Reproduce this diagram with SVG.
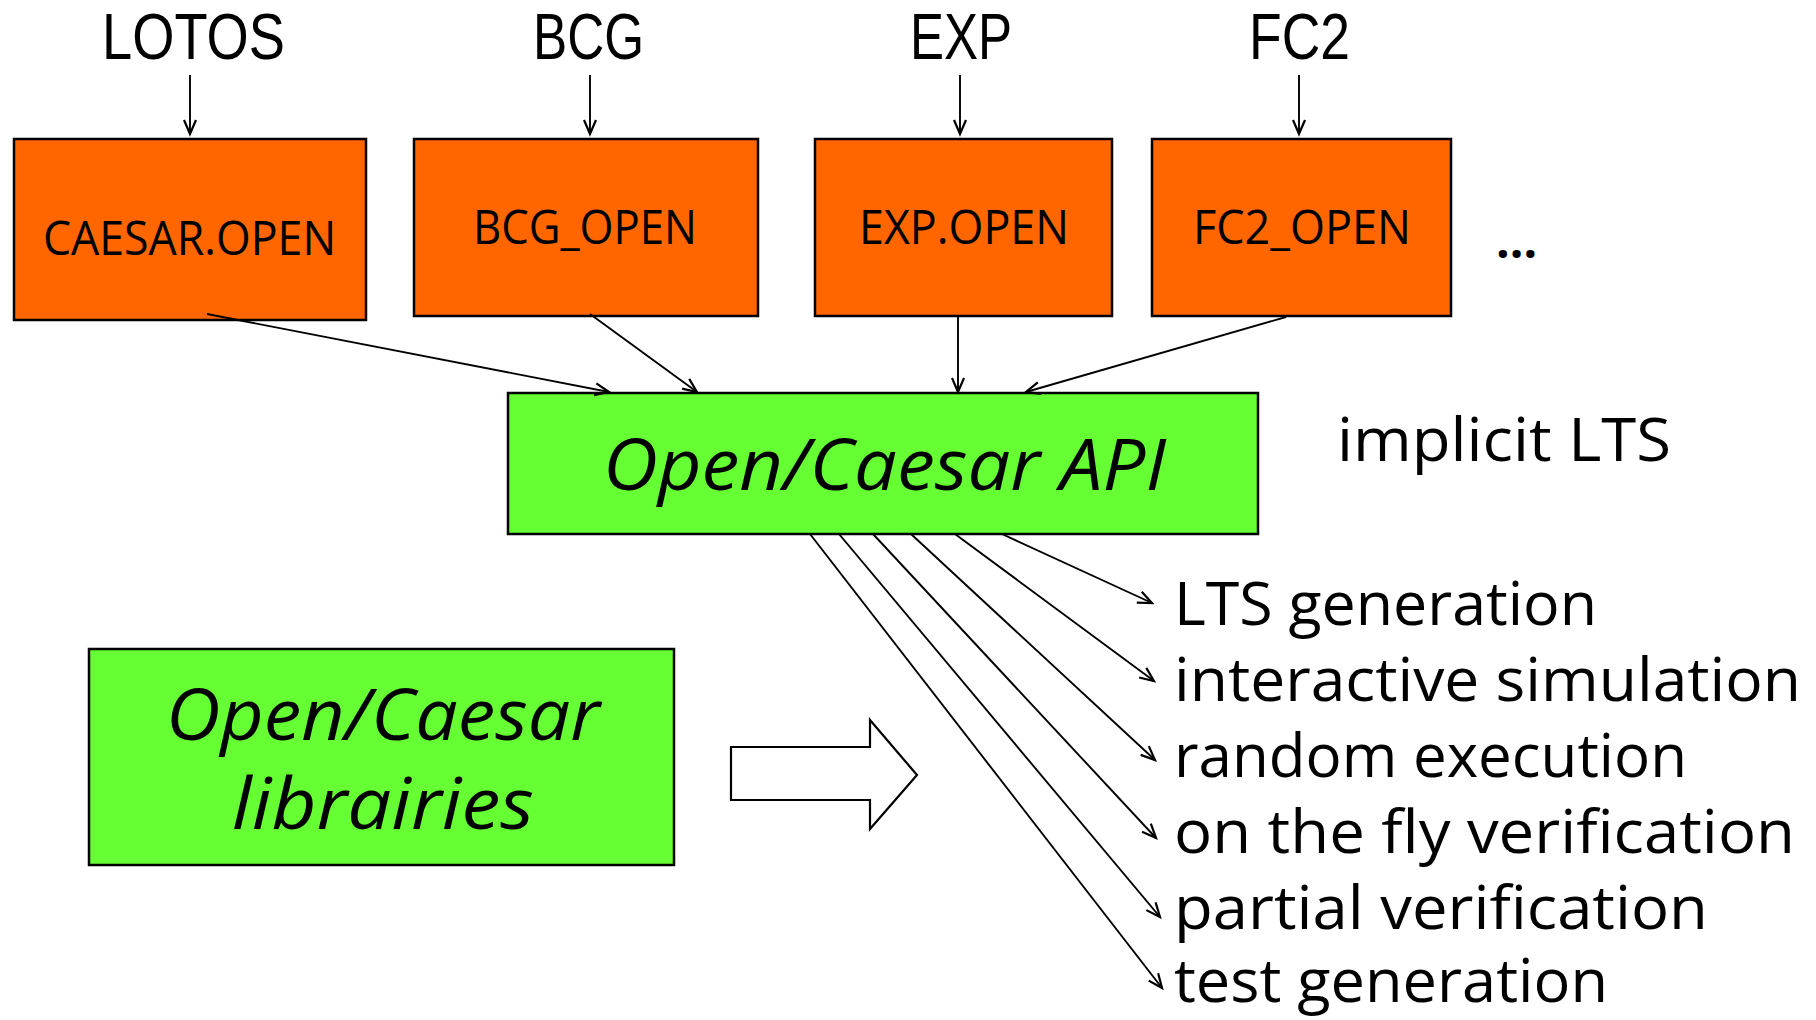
<svg xmlns="http://www.w3.org/2000/svg" width="1816" height="1020" viewBox="0 0 1816 1020">
<style>
  .t { font-family: "Open Sans", "DejaVu Sans", sans-serif; fill: #000; }
  .top { font-family: "Liberation Sans", "Open Sans", sans-serif; font-size: 64px; }
  .box { font-size: 48px; }
  .big { font-size: 72px; font-style: italic; }
  .out { font-size: 60px; }
  .orange { fill: #FF6600; stroke: #000; stroke-width: 2.5; }
  .green { fill: #66FF33; stroke: #000; stroke-width: 2.5; }
  .conn line { stroke: #000; stroke-width: 1.9; fill: none; marker-end: url(#arr); }
</style>
<defs>
  <marker id="arr" markerUnits="userSpaceOnUse" markerWidth="18" markerHeight="16" refX="15" refY="7" orient="auto" viewBox="0 0 18 14">
    <path d="M1,1 L15,7 L1,13" fill="none" stroke="#000" stroke-width="2.2"/>
  </marker>
</defs>
<rect width="1816" height="1020" fill="#fff"/>

<g id="label-lotos"><text class="t top" x="102" y="59" textLength="183" lengthAdjust="spacingAndGlyphs">LOTOS</text></g>
<g id="label-bcg"><text class="t top" x="533" y="59" textLength="111" lengthAdjust="spacingAndGlyphs">BCG</text></g>
<g id="label-exp"><text class="t top" x="910" y="59" textLength="102" lengthAdjust="spacingAndGlyphs">EXP</text></g>
<g id="label-fc2"><text class="t top" x="1249" y="59" textLength="101" lengthAdjust="spacingAndGlyphs">FC2</text></g>

<g id="caesar-open">
  <rect class="orange" x="14" y="139" width="352" height="181"/>
  <text class="t box" x="43" y="255" textLength="293" lengthAdjust="spacingAndGlyphs">CAESAR.OPEN</text>
</g>
<g id="bcg-open">
  <rect class="orange" x="414" y="139" width="344" height="177"/>
  <text class="t box" x="473" y="244" textLength="224" lengthAdjust="spacingAndGlyphs">BCG_OPEN</text>
</g>
<g id="exp-open">
  <rect class="orange" x="815" y="139" width="297" height="177"/>
  <text class="t box" x="859" y="244" textLength="210" lengthAdjust="spacingAndGlyphs">EXP.OPEN</text>
</g>
<g id="fc2-open">
  <rect class="orange" x="1152" y="139" width="299" height="177"/>
  <text class="t box" x="1193" y="244" textLength="218" lengthAdjust="spacingAndGlyphs">FC2_OPEN</text>
</g>
<g id="ellipsis"><text class="t box" x="1496" y="258" font-weight="bold">...</text></g>

<g id="api">
  <rect class="green" x="508" y="393" width="750" height="141"/>
  <text class="t big" x="603" y="490" textLength="563" lengthAdjust="spacingAndGlyphs">Open/Caesar API</text>
</g>
<g id="implicit-lts"><text class="t out" x="1337" y="461" textLength="334" lengthAdjust="spacingAndGlyphs">implicit LTS</text></g>

<g id="libraries">
  <rect class="green" x="89" y="649" width="585" height="216"/>
  <text class="t big" x="166" y="740" textLength="434" lengthAdjust="spacingAndGlyphs">Open/Caesar</text>
  <text class="t big" x="232" y="829" textLength="302" lengthAdjust="spacingAndGlyphs">librairies</text>
</g>

<g id="block-arrow">
  <path d="M731,747 L870,747 L870,720 L917,775 L870,829 L870,800 L731,800 Z" fill="#fff" stroke="#000" stroke-width="2.2"/>
</g>

<g id="out-lts-gen"><text class="t out" x="1174" y="625" textLength="423" lengthAdjust="spacingAndGlyphs">LTS generation</text></g>
<g id="out-sim"><text class="t out" x="1174" y="701" textLength="627" lengthAdjust="spacingAndGlyphs">interactive simulation</text></g>
<g id="out-rand"><text class="t out" x="1174" y="777" textLength="513" lengthAdjust="spacingAndGlyphs">random execution</text></g>
<g id="out-otf"><text class="t out" x="1174" y="853" textLength="621" lengthAdjust="spacingAndGlyphs">on the fly verification</text></g>
<g id="out-partial"><text class="t out" x="1174" y="929" textLength="534" lengthAdjust="spacingAndGlyphs">partial verification</text></g>
<g id="out-test"><text class="t out" x="1174" y="1002" textLength="434" lengthAdjust="spacingAndGlyphs" font-size="58">test generation</text></g>

<g id="connectors" class="conn">
  <line x1="190" y1="75" x2="190" y2="134"/>
  <line x1="590" y1="75" x2="590" y2="134"/>
  <line x1="960" y1="75" x2="960" y2="134"/>
  <line x1="1299" y1="75" x2="1299" y2="134"/>
  <line x1="207" y1="314" x2="609" y2="392"/>
  <line x1="590" y1="314" x2="697" y2="392"/>
  <line x1="958" y1="316" x2="958" y2="392"/>
  <line x1="1286" y1="317" x2="1026" y2="392"/>
  <line x1="1002" y1="534" x2="1152" y2="603"/>
  <line x1="955" y1="534" x2="1154" y2="681"/>
  <line x1="911" y1="534" x2="1155" y2="760"/>
  <line x1="873" y1="534" x2="1156" y2="838"/>
  <line x1="839" y1="534" x2="1160" y2="917"/>
  <line x1="810" y1="534" x2="1162" y2="988"/>
</g>
</svg>
